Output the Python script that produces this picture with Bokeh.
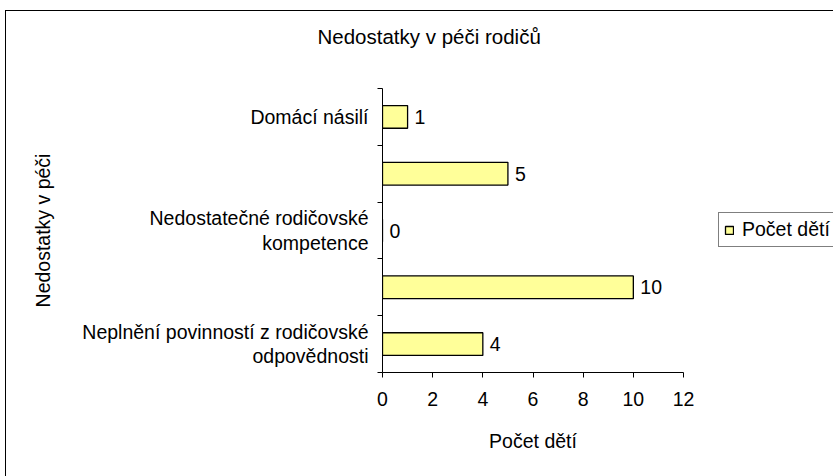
from bokeh.plotting import figure
from bokeh.models import ColumnDataSource, Range1d, FixedTicker, LabelSet, Legend, LegendItem, Title
from bokeh.core.properties import value
from bokeh.embed import file_html
from bokeh.resources import INLINE

title_text = "Nedostatky v péči rodičů"
y_title = "Nedostatky v péči"
x_title = "Počet dětí"
series_name = "Počet dětí"
# categories from bottom to top; two category names are not printed in the original
categories = [
    "Neplnění povinností z rodičovské\nodpovědnosti",
    "",
    "Nedostatečné rodičovské\nkompetence",
    "",
    "Domácí násilí",
]
values = [4, 10, 0, 5, 1]
x_ticks = [0, 2, 4, 6, 8, 10, 12]

FONT = "Liberation Sans"
FS = "19.5px"

positions = list(range(1, len(categories) + 1))
src = ColumnDataSource(dict(y=positions, v=values, lab=[str(v) for v in values]))

p = figure(
    frame_width=301, frame_height=284,
    min_border_left=376, min_border_right=150, min_border_top=77, min_border_bottom=104,
    x_range=Range1d(x_ticks[0], x_ticks[-1]),
    y_range=Range1d(0.5, len(categories) + 0.5),
    output_backend="svg", toolbar_location=None,
)
p.styles = {"margin-left": "5px", "margin-top": "10px",
            "border-left": "1px solid black", "border-top": "1px solid black"}
p.background_fill_color = "white"
p.border_fill_color = "white"
p.outline_line_color = None
p.grid.visible = False

r = p.hbar(y="y", right="v", left=0, height=0.4, source=src,
           fill_color="#FFFF99", line_color="black", line_width=1.3)

# spacer between the title and the plot area, then the title itself
p.add_layout(Title(text=" ", text_font_size="1px", standoff=36), "above")
p.add_layout(Title(text=title_text, text_font=FONT, text_font_size="20.5px",
                   text_font_style="normal", text_color="black",
                   align="left", offset=-65, standoff=4), "above")

# x axis
xa = p.xaxis[0]
xa.ticker = FixedTicker(ticks=x_ticks)
xa.axis_label = x_title
xa.axis_line_color = "black"
xa.major_tick_line_color = "black"
xa.major_tick_out = 5
xa.major_tick_in = 0
xa.minor_tick_line_color = None
xa.major_label_standoff = 14
xa.axis_label_standoff = 21
xa.major_label_text_font = FONT
xa.major_label_text_font_size = FS
xa.major_label_text_color = "black"
xa.axis_label_text_font = FONT
xa.axis_label_text_font_size = FS
xa.axis_label_text_font_style = "normal"
xa.axis_label_text_color = "black"

# y axis
ya = p.yaxis[0]
ya.ticker = FixedTicker(ticks=positions, minor_ticks=[i + 0.5 for i in range(len(categories) + 1)])
ya.major_label_overrides = {pos: lab for pos, lab in zip(positions, categories)}
ya.axis_label = y_title
ya.axis_line_color = "black"
ya.major_tick_line_color = None
ya.major_tick_out = 0
ya.major_tick_in = 0
ya.minor_tick_line_color = "black"
ya.minor_tick_out = 5
ya.minor_tick_in = 0
ya.major_label_standoff = 9
ya.axis_label_standoff = 25
ya.major_label_text_font = FONT
ya.major_label_text_font_size = FS
ya.major_label_text_color = "black"
ya.major_label_text_align = "center"
ya.major_label_text_line_height = 1.1
ya.axis_label_text_font = FONT
ya.axis_label_text_font_size = FS
ya.axis_label_text_font_style = "normal"
ya.axis_label_text_color = "black"

# data labels
labels = LabelSet(x="v", y="y", text="lab", source=src, x_offset=7,
                  text_baseline="middle", text_align="left",
                  text_font=value(FONT), text_font_size=FS, text_color="black")
p.add_layout(labels)

legend = Legend(items=[LegendItem(label=series_name, renderers=[r])], location=(35, 125))
legend.label_text_font = FONT
legend.label_text_font_size = FS
legend.label_text_color = "black"
legend.border_line_color = "black"
legend.border_line_width = 1
legend.padding = 5
legend.margin = 0
legend.spacing = 0
legend.glyph_width = 10
legend.glyph_height = 10
legend.label_standoff = 8
legend.label_height = 20
legend.background_fill_color = "white"
legend.background_fill_alpha = 1
p.add_layout(legend, "right")

open("out.html", "w").write(file_html(p, INLINE))
